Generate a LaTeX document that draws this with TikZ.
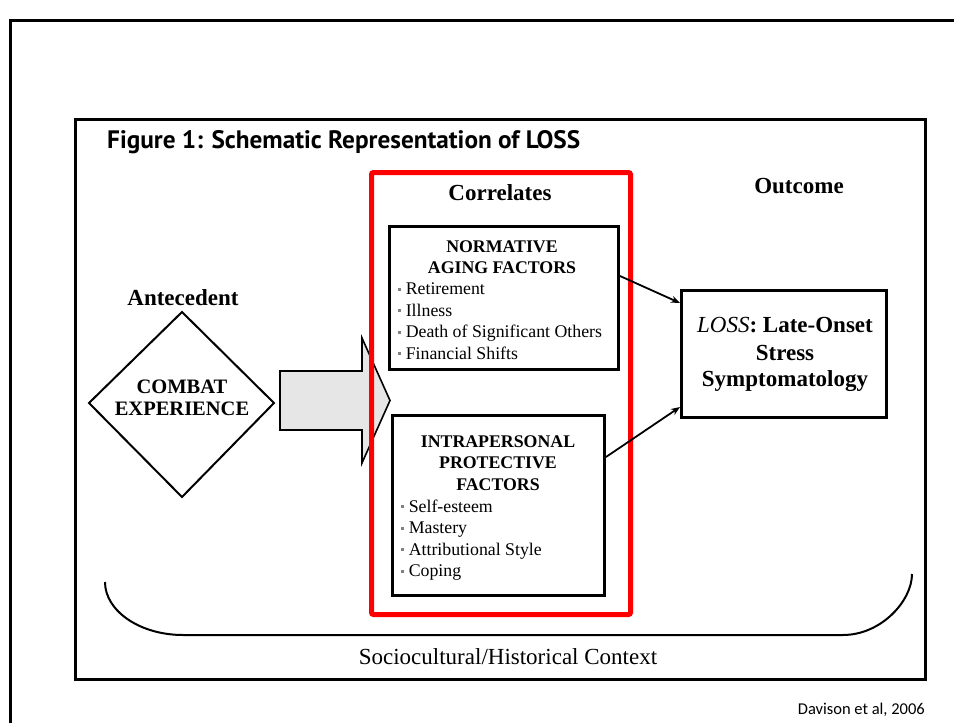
\documentclass[tikz,border=0pt]{standalone}
\usepackage{fontspec}
\setmainfont{Liberation Serif}
\newfontfamily\titlefont{PT Sans}
\newfontfamily\califont{Carlito}
\usetikzlibrary{arrows.meta,calc}
\definecolor{redbox}{RGB}{255,0,0}
\definecolor{arrowfill}{RGB}{230,230,230}
\newcommand{\bul}{\textcolor{gray}{\rule[0.22em]{2.6pt}{2.6pt}}\hspace{5pt}}
\tikzset{
  framebox/.style={draw, line width=3.4pt, inner sep=0pt},
  factorbox/.style={draw, line width=3pt, inner sep=0pt, fill=white},
  head/.style={font=\fontsize{17.8}{21}\selectfont\bfseries, anchor=base, inner sep=0pt},
  item/.style={font=\fontsize{17.8}{21}\selectfont, anchor=base west, inner sep=0pt},
  big/.style={font=\fontsize{23}{27}\selectfont\bfseries, anchor=base, inner sep=0pt},
  link/.style={line width=1.8pt, -{Stealth[length=9pt,width=7pt]}}
}
\begin{document}
\begin{tikzpicture}[x=1pt,y=-1pt]
\useasboundingbox (0,0) rectangle (954,723);
% slide frame
\draw[line width=3pt] (10,723) -- (10,20) -- (954,20);
% inner frame
\node[framebox, minimum width=850pt, minimum height=560pt] (frame) at (500.5,399.5) {};
% title
\node[anchor=base west, inner sep=0pt] (title) at (107,148) {\resizebox{473pt}{!}{\titlefont\bfseries Figure 1: Schematic Representation of LOSS}};
% antecedent
\node[big] (antlabel) at (183,305) {Antecedent};
\draw[line width=2pt, fill=white] (89,403) -- (182,312) -- (274,403) -- (182,497) -- cycle;
\node[font=\fontsize{20.5}{22}\selectfont\bfseries, anchor=base, inner sep=0pt] (combat) at (182,393.5) {COMBAT};
\node[font=\fontsize{20.5}{22}\selectfont\bfseries, anchor=base, inner sep=0pt] (experience) at (182,415.5) {EXPERIENCE};
% block arrow
\draw[line width=1.6pt, fill=arrowfill, line join=miter]
  (280,371) -- (362,371) -- (362,338) -- (390,400.5) -- (362,463) -- (362,430) -- (280,430) -- cycle;
% red box
\node[draw=redbox, line width=5pt, rounded corners=2pt, minimum width=259pt, minimum height=442pt, inner sep=0pt] (red) at (501,393.5) {};
\node[big] (correlates) at (500,200) {Correlates};
% normative box
\node[factorbox, minimum width=229pt, minimum height=143pt] (norm) at (504,298) {};
\node[head] (n1) at (502,252) {NORMATIVE};
\node[head] (n2) at (502,273.5) {AGING FACTORS};
\node[item] (n3) at (398,294.5) {\bul Retirement};
\node[item] (n4) at (398,316) {\bul Illness};
\node[item] (n5) at (398,337.5) {\bul Death of Significant Others};
\node[item] (n6) at (398,359) {\bul Financial Shifts};
% intrapersonal box
\node[factorbox, minimum width=212pt, minimum height=180pt] (intr) at (498.5,505.5) {};
\node[head] (p1) at (498,447.5) {INTRAPERSONAL};
\node[head] (p2) at (498,468.5) {PROTECTIVE};
\node[head] (p3) at (498,490) {FACTORS};
\node[item] (p4) at (401,512) {\bul Self-esteem};
\node[item] (p5) at (401,533.5) {\bul Mastery};
\node[item] (p6) at (401,555) {\bul Attributional Style};
\node[item] (p7) at (401,576.5) {\bul Coping};
% outcome
\node[big] (outcome) at (799,193) {Outcome};
\node[factorbox, minimum width=205pt, minimum height=127pt] (loss) at (784,354) {};
\node[big] (l1) at (785,332) {\textit{\mdseries LOSS}: Late-Onset};
\node[big] (l2) at (785,360) {Stress};
\node[big] (l3) at (785,386.5) {Symptomatology};
% connectors
\draw[link] ([yshift=22pt]norm.east) -- ([yshift=51pt]loss.west);
\draw[link] ([yshift=48.5pt]intr.east) -- ([yshift=-53pt]loss.west);
% context bracket
\draw[line width=2pt] (105,582) .. controls (105,611) and (140,635) .. (183,635)
  -- (843,635) .. controls (881,635) and (912,601) .. (912,574);
\node[font=\fontsize{23}{26}\selectfont, anchor=base, inner sep=0pt] (context) at (508,664) {Sociocultural/Historical Context};
% citation
\node[font=\califont\fontsize{16.5}{20}\selectfont, anchor=base east, inner sep=0pt] (cite) at (925,714) {Davison et al, 2006};
\end{tikzpicture}
\end{document}
